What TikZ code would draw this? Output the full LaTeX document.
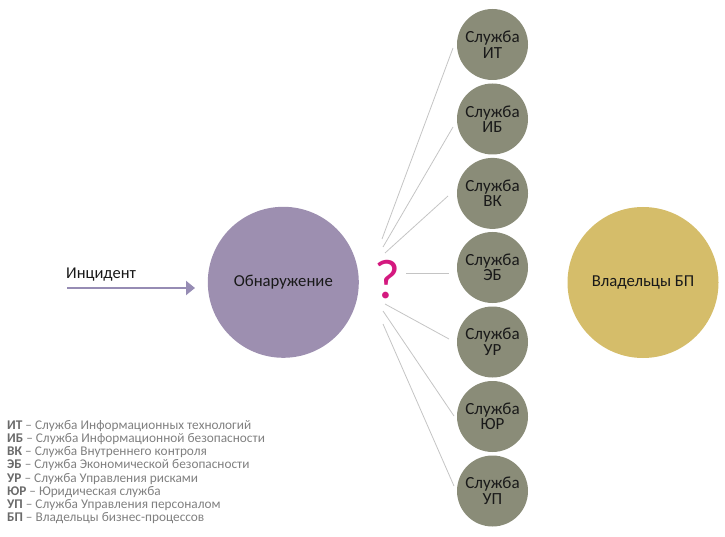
\documentclass[tikz,border=0pt]{standalone}
\usepackage{fontspec}
\setmainfont{Carlito}
\usetikzlibrary{arrows.meta}
\definecolor{svc}{HTML}{8A8C78}
\definecolor{detect}{HTML}{9D8FB0}
\definecolor{owner}{HTML}{D5BD6A}
\definecolor{arrowc}{HTML}{968CB4}
\definecolor{qmark}{HTML}{D4197F}
\definecolor{linkc}{HTML}{C4C4C4}
\definecolor{legendc}{HTML}{808080}
\definecolor{legendb}{HTML}{6A6A6A}
\tikzset{
  svcnode/.style={circle, fill=svc, minimum size=71pt, inner sep=0pt, align=center,
    font=\fontsize{17}{15.5}\selectfont, text=black!90},
  bignode/.style={circle, minimum size=151pt, inner sep=0pt,
    font=\fontsize{16.7}{18}\selectfont, text=black!90},
  link/.style={draw=linkc, line width=0.8pt},
}
\newcommand{\abbr}[1]{\textcolor{legendb}{\textbf{#1}}}
\begin{document}
\begin{tikzpicture}[x=1pt,y=-1pt]
\useasboundingbox (0,0) rectangle (725,537);
% big circles
\node[bignode, fill=detect] (det) at (283.3,282.3) {Обнаружение};
\node[bignode, fill=owner] (own) at (643,282.5) {Владельцы БП};
% incident arrow
\node[anchor=base west, inner sep=0pt, font=\fontsize{16.5}{18}\selectfont, text=black!90] (inc) at (66,279) {Инцидент};
\coordinate (a0) at (67,288);
\coordinate (a1) at (195,288);
\draw[arrowc, line width=2pt, -{Triangle[width=14pt,length=9pt]}] (a0) -- (a1);
% question mark
\node[text=qmark, inner sep=0pt, font=\fontsize{56}{60}\selectfont] (q) at (387,280) {?};
% service circles
\node[svcnode] (c1) at (492.5,44.5) {Служба\\ИТ};
\node[svcnode] (c2) at (492.5,119) {Служба\\ИБ};
\node[svcnode] (c3) at (492.5,193.4) {Служба\\ВК};
\node[svcnode] (c4) at (492.5,267.5) {Служба\\ЭБ};
\node[svcnode] (c5) at (492.5,342) {Служба\\УР};
\node[svcnode] (c6) at (492.5,416.5) {Служба\\ЮР};
\node[svcnode] (c7) at (492.5,491) {Служба\\УП};
% connector ends
\coordinate (s1) at (382,239); \coordinate (e1) at (453,48);
\coordinate (s2) at (383,247); \coordinate (e2) at (453,127);
\coordinate (s3) at (385,253); \coordinate (e3) at (448,196);
\coordinate (s4) at (406,273); \coordinate (e4) at (449,273);
\coordinate (s5) at (385,304); \coordinate (e5) at (449,339);
\coordinate (s6) at (383,311); \coordinate (e6) at (454,416);
\coordinate (s7) at (383,324); \coordinate (e7) at (454,486);
\foreach \i in {1,...,7} \draw[link] (s\i) -- (e\i);
% legend
\node[anchor=north west, inner sep=0pt, align=left, text=legendc,
  font=\fontsize{13.3}{13.2}\selectfont] (leg) at (7,420) {%
\abbr{ИТ} – Служба Информационных технологий\\
\abbr{ИБ} – Служба Информационной безопасности\\
\abbr{ВК} – Служба Внутреннего контроля\\
\abbr{ЭБ} – Служба Экономической безопасности\\
\abbr{УР} – Служба Управления рисками\\
\abbr{ЮР} – Юридическая служба\\
\abbr{УП} – Служба Управления персоналом\\
\abbr{БП} – Владельцы бизнес-процессов};
\end{tikzpicture}
\end{document}
